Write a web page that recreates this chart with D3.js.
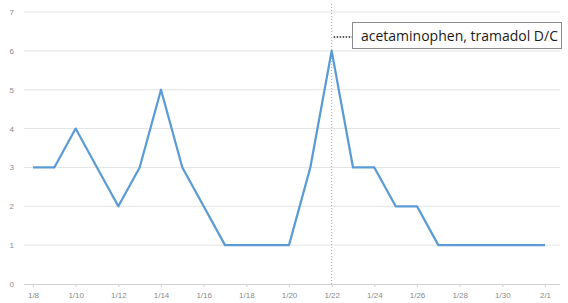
<!DOCTYPE html>
<html>
<head>
<meta charset="utf-8">
<script src="https://cdn.jsdelivr.net/npm/d3@7"></script>
<style>
    body { margin: 0; background: #fff; }
    svg { display: block; }
    .tick text { fill: #8a8a8a; font-family: "Liberation Sans", Arial, sans-serif; font-size: 8px; }
</style>
</head>
<body>
<script>
    // data
    var dates = ["1/8","1/9","1/10","1/11","1/12","1/13","1/14","1/15","1/16","1/17","1/18","1/19","1/20",
                 "1/21","1/22","1/23","1/24","1/25","1/26","1/27","1/28","1/29","1/30","1/31","2/1"];
    var values = [3,3,4,3,2,3,5,3,2,1,1,1,1,3,6,3,3,2,2,1,1,1,1,1,1];
    var yTicks = [0,1,2,3,4,5,6,7];
    var xTickLabels = ["1/8","1/10","1/12","1/14","1/16","1/18","1/20","1/22","1/24","1/26","1/28","1/30","2/1"];
    var markDate = "1/22";
    var noteText = "acetaminophen, tramadol D/C";

    var width = 568, height = 303;
    var svg = d3.select("body").append("svg")
        .attr("width", width)
        .attr("height", height);

    var x = d3.scalePoint().domain(dates).range([33, 545]);
    var y = d3.scaleLinear().domain([0, 7]).range([284, 12]);

    // gridlines
    svg.append("g")
        .selectAll("line")
        .data(yTicks.filter(function (d) { return d > 0; }))
        .enter()
        .append("line")
        .attr("x1", 24).attr("x2", 560)
        .attr("y1", function (d) { return y(d); })
        .attr("y2", function (d) { return y(d); })
        .attr("stroke", "#e3e3e3")
        .attr("stroke-width", 1);

    // y axis labels
    var yAxis = svg.append("g")
        .attr("transform", "translate(18,0)")
        .call(d3.axisLeft(y).tickValues(yTicks).tickFormat(d3.format("d")).tickSize(0).tickPadding(4));
    yAxis.select(".domain").remove();

    // x axis
    var xAxis = svg.append("g")
        .attr("transform", "translate(0," + y(0) + ")")
        .call(d3.axisBottom(x).tickValues(xTickLabels).tickSize(3).tickPadding(5));
    xAxis.select(".domain").attr("d", "M24,0.5H560").attr("stroke", "#d0d0d0");
    xAxis.selectAll(".tick line").attr("stroke", "#d0d0d0");

    // vertical marker line
    svg.append("line")
        .attr("x1", x(markDate)).attr("x2", x(markDate))
        .attr("y1", 4).attr("y2", y(0))
        .attr("stroke", "#a6a6a6")
        .attr("stroke-width", 1)
        .attr("stroke-dasharray", "1,2");

    // series line
    var line = d3.line()
        .x(function (d, i) { return x(dates[i]); })
        .y(function (d) { return y(d); });

    svg.append("path")
        .datum(values)
        .attr("d", line)
        .attr("fill", "none")
        .attr("stroke", "#5b9bd5")
        .attr("stroke-width", 2.25)
        .attr("stroke-linejoin", "round");

    // annotation
    var noteY = 37;
    svg.append("line")
        .attr("x1", x(markDate) + 2).attr("x2", 352)
        .attr("y1", noteY).attr("y2", noteY)
        .attr("stroke", "#262626")
        .attr("stroke-width", 1.5)
        .attr("stroke-dasharray", "1.5,1.5");

    svg.append("rect")
        .attr("x", 352.5).attr("y", 22.5)
        .attr("width", 209).attr("height", 26)
        .attr("fill", "#fff")
        .attr("stroke", "#8c8c8c");

    svg.append("text")
        .attr("x", 361).attr("y", 41)
        .attr("fill", "#1a1a1a")
        .style("font-family", "'Open Sans', sans-serif")
        .style("font-size", "14px")
        .text(noteText);
</script>
</body>
</html>
